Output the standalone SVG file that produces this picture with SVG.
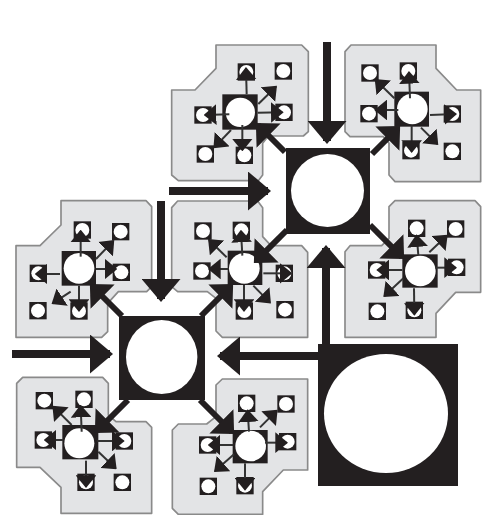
<svg xmlns="http://www.w3.org/2000/svg" width="486" height="515" viewBox="0 0 486 515">
<style>
.p{fill:#e3e4e6;stroke:#8a8a8a;stroke-width:5;stroke-linejoin:round}
.k{fill:#231f20}
.w{fill:#fff}
.a{fill:none;stroke:#333;stroke-width:6;marker-end:url(#h)}
.b{fill:none;stroke:#231f20;stroke-width:8;marker-end:url(#H)}
.d{fill:none;stroke:#231f20;stroke-width:6;marker-end:url(#D)}
</style>
<defs>
<marker id="h" markerUnits="userSpaceOnUse" markerWidth="38" markerHeight="62" refX="34" refY="31" orient="auto"><path d="M0 0L38 31L0 62Z" fill="#231f20"/></marker>
<marker id="H" markerUnits="userSpaceOnUse" markerWidth="23" markerHeight="39" refX="20" refY="19.500" orient="auto"><path d="M0 0L23 19.500L0 39Z" fill="#231f20"/></marker>
<marker id="D" markerUnits="userSpaceOnUse" markerWidth="18" markerHeight="34" refX="15" refY="17" orient="auto"><path d="M0 0L18 17L0 34Z" fill="#231f20"/></marker>
<g id="s"><rect class="k" x="-26" y="-26" width="52" height="52"/><circle class="w" r="21"/></g>
</defs>

<g id="module-1" transform="translate(165 35) scale(.33333)">
<polygon class="p" points="153,30 410,30 430,50 430,290 415,303 310,303 293,325 293,420 280,437 40,437 20,420 20,165 90,165 153,100"/>
<rect class="k" x="172" y="178" width="106" height="106"/><circle class="w" cx="226" cy="232" r="44"/>
<use href="#s" x="244" y="111"/><use href="#s" x="355" y="108"/><use href="#s" x="114" y="240"/><use href="#s" x="357" y="232"/><use href="#s" x="121" y="357"/><use href="#s" x="238" y="361"/>
</g>
<g id="module-2" transform="translate(335 35) scale(.33333)">
<polygon class="p" points="30,50 48,30 303,30 303,100 365,165 437,165 437,440 180,440 162,420 162,325 145,305 45,305 30,290"/>
<rect class="k" x="178" y="170" width="104" height="105"/><circle class="w" cx="232" cy="222" r="46"/>
<use href="#s" x="105" y="114"/><use href="#s" x="220" y="108"/><use href="#s" x="102" y="236"/><use href="#s" x="352" y="237"/><use href="#s" x="228" y="347"/><use href="#s" x="352" y="349"/>
</g>
<g id="module-3" transform="translate(335 195) scale(.33333)">
<polygon class="p" points="30,170 45,152 140,152 162,130 162,35 180,17 420,17 437,35 437,292 362,292 303,355 303,427 30,427"/>
<rect class="k" x="202" y="178" width="106" height="100"/><circle class="w" cx="256" cy="228" r="46"/>
<use href="#s" x="245" y="100"/><use href="#s" x="362" y="102"/><use href="#s" x="125" y="225"/><use href="#s" x="365" y="217"/><use href="#s" x="127" y="349"/><use href="#s" x="238" y="346"/>
</g>
<g id="module-4" transform="translate(165 195) scale(.33333)">
<polygon class="p" points="20,38 38,18 278,18 293,38 293,125 318,152 410,152 428,172 428,427 172,427 153,408 153,310 127,290 38,290 20,275"/>
<rect class="k" x="188" y="167" width="104" height="103"/><circle class="w" cx="238" cy="220" r="46"/>
<use href="#s" x="114" y="108"/><use href="#s" x="229" y="106"/><use href="#s" x="111" y="228"/><use href="#s" x="358" y="235"/><use href="#s" x="238" y="348"/><use href="#s" x="360" y="344"/>
</g>
<g id="module-5" transform="translate(10 195) scale(.33333)">
<polygon class="p" points="18,152 90,152 153,90 153,17 408,17 425,35 425,275 410,290 325,290 293,325 293,410 275,427 18,427"/>
<rect class="k" x="155" y="168" width="103" height="104"/><circle class="w" cx="207" cy="220" r="46"/>
<use href="#s" x="217" y="105"/><use href="#s" x="332" y="110"/><use href="#s" x="85" y="235"/><use href="#s" x="334" y="232"/><use href="#s" x="84" y="347"/><use href="#s" x="207" y="348"/>
</g>
<g id="module-6" transform="translate(10 370) scale(.33333)">
<polygon class="p" points="20,40 38,22 278,22 295,40 295,135 318,155 408,155 425,172 425,430 153,430 153,352 90,292 20,292"/>
<rect class="k" x="157" y="165" width="108" height="103"/><circle class="w" cx="208" cy="220" r="45"/>
<use href="#s" x="103" y="92"/><use href="#s" x="222" y="88"/><use href="#s" x="100" y="210"/><use href="#s" x="343" y="213"/><use href="#s" x="228" y="337"/><use href="#s" x="337" y="337"/>
</g>
<g id="module-7" transform="translate(165 370) scale(.33333)">
<polygon class="p" points="153,45 172,27 428,27 428,300 355,300 293,365 293,433 40,433 22,415 22,180 40,162 125,162 153,140"/>
<rect class="k" x="203" y="180" width="105" height="100"/><circle class="w" cx="257" cy="228" r="46"/>
<use href="#s" x="245" y="100"/><use href="#s" x="363" y="102"/><use href="#s" x="128" y="225"/><use href="#s" x="368" y="215"/><use href="#s" x="130" y="349"/><use href="#s" x="240" y="347"/>
</g>

<g id="connectors">
<g transform="translate(165 35) scale(.33333)">
<path class="a" d="M245 178L243 100"/><path class="a" d="M280 207L333 155"/><path class="a" d="M193 238L120 240"/><path class="a" d="M278 233L352 232"/><path class="a" d="M198 285L148 337"/><path class="a" d="M232 270L232 345"/>
</g>
<g transform="translate(335 35) scale(.33333)">
<path class="a" d="M178 190L122 135"/><path class="a" d="M225 190L222 112"/><path class="a" d="M190 225L122 225"/><path class="a" d="M285 240L362 237"/><path class="a" d="M230 272L230 350"/><path class="a" d="M258 278L307 327"/>
</g>
<g transform="translate(335 195) scale(.33333)">
<path class="a" d="M250 180L245 122"/><path class="a" d="M283 172L335 122"/><path class="a" d="M202 225L128 225"/><path class="a" d="M300 218L362 218"/><path class="a" d="M205 250L148 303"/><path class="a" d="M237 280L238 358"/>
</g>
<g transform="translate(165 195) scale(.33333)">
<path class="a" d="M185 187L132 135"/><path class="a" d="M232 182L228 108"/><path class="a" d="M190 222L133 222"/><path class="a" d="M295 235L378 235"/><path class="a" d="M237 270L237 347"/><path class="a" d="M265 272L315 323"/>
</g>
<g transform="translate(10 195) scale(.33333)">
<path class="a" d="M212 185L212 108"/><path class="a" d="M258 192L310 138"/><path class="a" d="M150 237L78 237"/><path class="a" d="M258 222L318 222"/><path class="a" d="M182 290L128 325"/><path class="a" d="M207 272L207 347"/>
</g>
<g transform="translate(10 370) scale(.33333)">
<path class="a" d="M185 165L130 110"/><path class="a" d="M215 185L212 108"/><path class="a" d="M160 210L105 210"/><path class="a" d="M262 213L340 213"/><path class="a" d="M228 272L228 350"/><path class="a" d="M265 245L317 295"/>
</g>
<g transform="translate(165 370) scale(.33333)">
<path class="a" d="M252 185L248 122"/><path class="a" d="M285 172L335 122"/><path class="a" d="M205 225L132 225"/><path class="a" d="M300 218L365 218"/><path class="a" d="M207 253L150 303"/><path class="a" d="M240 280L240 358"/>
</g>
<path class="d" d="M285 152L258 125"/><path class="d" d="M372 154L398 128"/><path class="d" d="M370 225L402 257"/><path class="d" d="M287 230L256 261"/>
<path class="d" d="M122 316L92 286"/><path class="d" d="M201 316L231 286"/><path class="d" d="M128 400L97 431"/><path class="d" d="M200 400L232 432"/>
<path class="b" d="M327 42L327 141"/><path class="b" d="M169 191L268 191"/><path class="b" d="M161 201L161 299"/><path class="b" d="M12 354L110 354"/><path class="b" d="M320 356L220 356"/><path class="b" d="M326 346L326 248"/>
</g>

<g id="core-top"><rect class="k" x="286" y="148" width="84" height="86"/><circle class="w" cx="327.500" cy="190.500" r="36.500"/></g>
<g id="core-bottom"><rect class="k" x="119" y="316" width="86" height="84"/><ellipse class="w" cx="161.700" cy="357" rx="35.700" ry="37"/></g>
<g id="source"><rect class="k" x="318" y="344" width="140" height="142"/><ellipse class="w" cx="386" cy="413.500" rx="62" ry="59.500"/></g>
</svg>
